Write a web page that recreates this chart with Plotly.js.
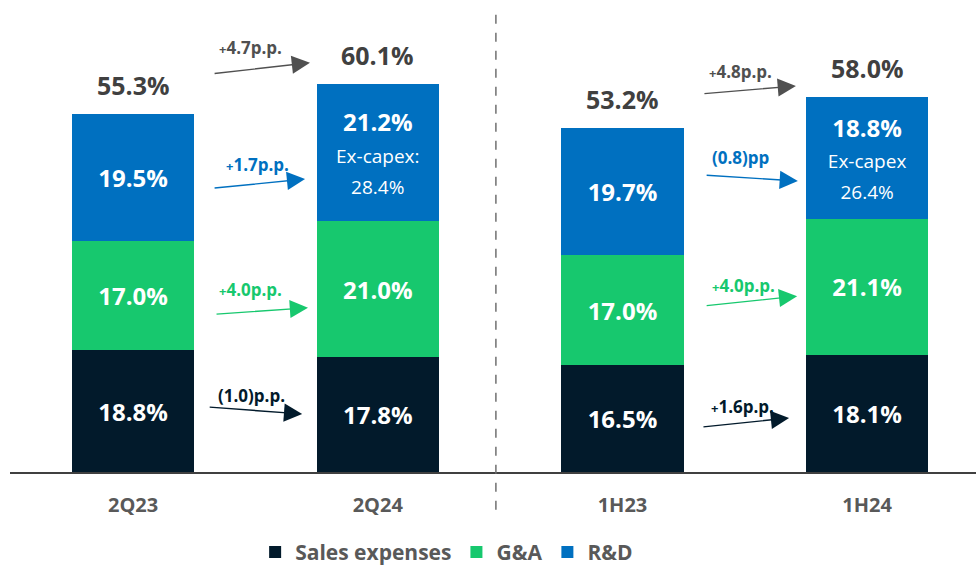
<!DOCTYPE html>
<html>
<head>
<meta charset="utf-8">
<script src="https://cdn.plot.ly/plotly-3.0.1.min.js"></script>
<style>html,body{margin:0;padding:0;background:#fff;}#chart{width:976px;height:567px;}</style>
</head>
<body>
<div id="chart"></div>
<script>
// ---- data ----
const categories = ["2Q23", "2Q24", "1H23", "1H24"];
const salesExpenses = [18.8, 17.8, 16.5, 18.1];
const gna = [17.0, 21.0, 17.0, 21.1];
const rnd = [19.5, 21.2, 19.7, 18.8];
const totals = [55.3, 60.1, 53.2, 58.0];
const rndExCapex = [null, 28.4, null, 26.4];
const rndExCapexLabel = [null, "Ex-capex:", null, "Ex-capex"];
const changeLabels = {
  total: ["+4.7p.p.", "+4.8p.p."],
  rnd: ["+1.7p.p.", "(0.8)pp"],
  gna: ["+4.0p.p.", "+4.0p.p."],
  sales: ["(1.0)p.p.", "+1.6p.p."]
};

const C_SALES = "#021a2b", C_GNA = "#17c86e", C_RND = "#0070c0", C_GRAY = "#505050";
const xs = categories.map((c, i) => i);
const FONT = "'Open Sans', Lato, sans-serif";

function pct(v) { return v.toFixed(1) + "%"; }

const rndText = rnd.map((v, i) => rndExCapex[i] == null ? "<b>" + pct(v) + "</b>" :
  "<b>" + pct(v) + "</b><br><span style='font-size:19px'>" + rndExCapexLabel[i] + "</span><br><span style='font-size:19px'>" + pct(rndExCapex[i]) + "</span>");

function barTrace(name, vals, color, text) {
  return {
    type: "bar", name: name, x: xs, y: vals, width: 0.5,
    marker: { color: color, line: { width: 0 } },
    text: text || vals.map(v => "<b>" + pct(v) + "</b>"),
    textposition: "inside", insidetextanchor: "middle", textangle: 0,
    constraintext: "none",
    textfont: { family: FONT, size: 24, color: "#ffffff" },
    hoverinfo: "skip"
  };
}

const data = [
  barTrace("Sales expenses", salesExpenses, C_SALES),
  barTrace("G&A", gna, C_GNA),
  barTrace("R&D", rnd, C_RND, rndText)
];

const annotations = [];
// totals
totals.forEach((t, i) => {
  const stackTop = salesExpenses[i] + gna[i] + rnd[i];
  annotations.push({
    x: i, y: stackTop, xref: "x", yref: "y", yanchor: "bottom", yshift: 10,
    text: "<b>" + pct(t) + "</b>", showarrow: false,
    font: { family: FONT, size: 25, color: "#404040" }
  });
});

// change arrows: [label, color, tail(x,y), head(x,y), label(x,y)]
const arrows = [
  [changeLabels.total[0], C_GRAY, [0.327, 61.6], [0.723, 63.3], [0.478, 65.6]],
  [changeLabels.rnd[0], C_RND, [0.327, 43.9], [0.703, 45.3], [0.507, 47.5]],
  [changeLabels.gna[0], C_GNA, [0.335, 24.4], [0.715, 25.4], [0.478, 28.2]],
  [changeLabels.sales[0], C_SALES, [0.307, 10.05], [0.691, 8.97], [0.486, 11.9]],
  [changeLabels.total[1], C_GRAY, [2.329, 58.5], [2.709, 59.7], [2.481, 61.9]],
  [changeLabels.rnd[1], C_RND, [2.338, 45.9], [2.717, 45.0], [2.481, 48.6]],
  [changeLabels.gna[1], C_GNA, [2.338, 25.7], [2.714, 27.2], [2.493, 28.9]],
  [changeLabels.sales[1], C_SALES, [2.325, 6.96], [2.681, 8.35], [2.489, 10.2]]
];
arrows.forEach(a => {
  const [label, color, tail, head, lab] = a;
  annotations.push({
    x: head[0], y: head[1], ax: tail[0], ay: tail[1], xref: "x", yref: "y",
    axref: "x", ayref: "y", text: "", showarrow: true,
    arrowhead: 2, arrowsize: 2.6, arrowwidth: 1.4, arrowcolor: color, standoff: 0
  });
  const txt = label.startsWith("+") ?
    "<b><span style='font-size:13px'>+</span>" + label.slice(1) + "</b>" : "<b>" + label + "</b>";
  annotations.push({
    x: lab[0], y: lab[1], xref: "x", yref: "y", text: txt, showarrow: false,
    font: { family: FONT, size: 17, color: color }
  });
});

const layout = {
  width: 976, height: 567,
  margin: { l: 10, r: 0, t: 0, b: 95, autoexpand: false },
  paper_bgcolor: "#ffffff", plot_bgcolor: "#ffffff",
  barmode: "stack",
  xaxis: {
    range: [-0.503, 3.445], tickvals: xs, ticktext: categories,
    showgrid: false, zeroline: false, showline: true, linecolor: "#404040", linewidth: 2,
    ticks: "", ticklabelstandoff: 14, automargin: false,
    tickfont: { family: FONT, size: 20, color: "#595959", weight: "bold" },
    fixedrange: true
  },
  yaxis: { range: [0, 73], visible: false, showgrid: false, zeroline: false, fixedrange: true },
  showlegend: true,
  legend: {
    orientation: "h", x: 0.452, xanchor: "center", y: -0.170, yanchor: "middle",
    font: { family: FONT, size: 21, color: "#595959", weight: "bold" },
    itemwidth: 30, tracegroupgap: 0, traceorder: "normal"
  },
  shapes: [{
    type: "line", xref: "paper", yref: "paper", x0: 0.503, x1: 0.503, y0: -0.08, y1: 0.979,
    line: { color: "#707070", width: 1.5, dash: "dash" }
  }],
  annotations: annotations
};

Plotly.newPlot("chart", data, layout, { displayModeBar: false, staticPlot: true });
</script>
</body>
</html>
